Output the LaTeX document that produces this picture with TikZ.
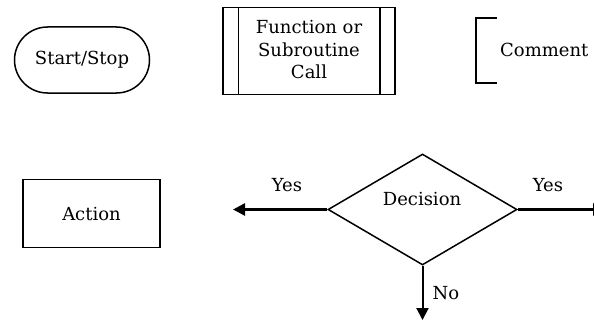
\documentclass[tikz,border=0pt]{standalone}
\usepackage{fontspec}
\setmainfont{DejaVu Serif}
\usetikzlibrary{shapes.misc,shapes.geometric,arrows.meta}
\tikzset{
  shapeline/.style={draw=black, line width=1.5pt},
  flowarrow/.style={draw=black, line width=2.6pt, -{Triangle[length=12pt,width=12pt]}},
  lbl/.style={font=\fontsize{18}{22}\selectfont, inner sep=0pt, text=black},
}
\begin{document}
\begin{tikzpicture}[x=1pt, y=-1pt]
  \useasboundingbox (0,0) rectangle (594,321);

  % terminator
  \node[shapeline, rounded rectangle, minimum width=135pt, minimum height=66pt, inner sep=0pt] (startstop) at (82,60) {};
  \node[lbl] (startstoptxt) at (82,60) {Start/Stop};

  % predefined process
  \node[shapeline, rectangle, minimum width=172pt, minimum height=87pt, inner sep=0pt] (func) at (309,51) {};
  \draw[shapeline] ([xshift=16pt]func.north west) -- ([xshift=16pt]func.south west);
  \draw[shapeline] ([xshift=-16pt]func.north east) -- ([xshift=-16pt]func.south east);
  \node[lbl, align=center] (functxt) at (309,50) {Function or\\[0.5pt]Subroutine\\[0.5pt]Call};

  % annotation bracket
  \coordinate (cmtA) at (497,18);
  \coordinate (cmtB) at (476,18);
  \coordinate (cmtC) at (476,83);
  \coordinate (cmtD) at (497,83);
  \draw[shapeline] (cmtA) -- (cmtB) -- (cmtC) -- (cmtD);
  \node[lbl, anchor=west] (cmttxt) at (500,50) {Comment};

  % process
  \node[shapeline, rectangle, minimum width=137pt, minimum height=68pt, inner sep=0pt] (action) at (91.5,213.5) {};
  \node[lbl] (actiontxt) at (91.5,214) {Action};

  % decision
  \node[shapeline, diamond, minimum width=189pt, minimum height=111pt, inner sep=0pt] (decision) at (422.5,209.5) {};
  \node[lbl] (decisiontxt) at (422,199) {Decision};

  % branches
  \coordinate (leftend) at (233,209.5);
  \coordinate (downend) at (422.5,320);
  \coordinate (rightend) at (605,209.5);
  \draw[flowarrow] (decision.west) -- (leftend);
  \draw[flowarrow, line width=2pt] (decision.south) -- (downend);
  \begin{scope}
    \clip (0,0) rectangle (594,321);
    \draw[flowarrow] (decision.east) -- (rightend);
  \end{scope}
  \node[lbl] (yesleft) at (287,185) {Yes};
  \node[lbl] (yesright) at (548,185) {Yes};
  \node[lbl] (notxt) at (446,293) {No};
\end{tikzpicture}
\end{document}
